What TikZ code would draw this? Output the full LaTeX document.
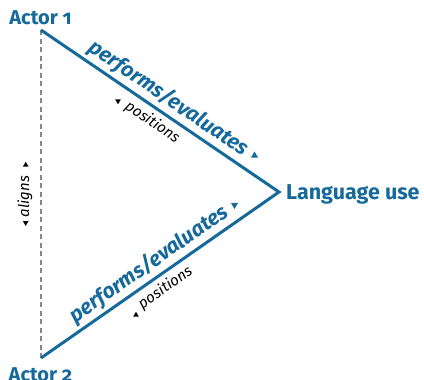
\documentclass[tikz,border=0pt]{standalone}
\usepackage{fontspec}
\setmainfont{Fira Sans}[Numbers=OldStyle]
\usetikzlibrary{shapes.geometric}
\definecolor{lblue}{RGB}{22,105,155}
\definecolor{dgray}{RGB}{135,135,135}
\begin{document}
\begin{tikzpicture}[x=1pt,y=-1pt,
  actor/.style={font=\fontsize{20}{24}\selectfont\bfseries, text=lblue, inner sep=0pt},
  rel/.style={font=\fontsize{21}{24}\selectfont\bfseries\itshape, text=lblue, inner sep=0pt, sloped},
  sub/.style={font=\fontsize{15}{18}\selectfont\itshape, inner sep=0pt},
  edge/.style={draw=lblue, line width=3pt, line join=miter},
  dashline/.style={draw=dgray, line width=1.4pt, dash pattern=on 5pt off 3.5pt},
  tri/.style={regular polygon, regular polygon sides=3, inner sep=0pt, minimum size=8pt, fill=lblue},
  btri/.style={regular polygon, regular polygon sides=3, inner sep=0pt, minimum size=6.5pt, fill=black}
]
\useasboundingbox (0,0) rectangle (424,380);
\coordinate (a1) at (41,30);
\coordinate (lu) at (279,192);
\coordinate (a2) at (41,358);

\node[actor, anchor=base] (t1) at (40.5,24) {Actor 1};
\node[actor, anchor=base] (t2) at (40.5,381) {Actor 2};
\node[actor, font=\fontsize{21.5}{24}\selectfont\bfseries, anchor=base west] (tl) at (286,199.3) {Language use};

\draw[dashline] (a1) -- (a2);
\draw[edge] (a1) -- (lu) -- (a2);

\path (a1) -- node[rel, above=4pt, pos=0.5] (pe1) {performs/evaluates} (lu);
\path (a2) -- node[rel, above=4pt, pos=0.49] (pe2) {performs/evaluates} (lu);
\path (a1) -- node[sub, sloped, below=6pt, pos=0.5] (po1) {positions} (lu);
\path (a2) -- node[sub, sloped, below=6pt, pos=0.49] (po2) {positions} (lu);
\node[sub, rotate=90] (al) at (25,196.5) {aligns};

\node[tri] (tr1) at (254.5,155.5) {};
\node[tri, rotate=180] (tr2) at (234.5,205) {};
\node[btri, rotate=180] (tr3) at (118,101) {};
\node[btri] (tr4) at (136,315) {};
\node[btri] (tr5) at (25.7,165) {};
\node[btri, rotate=180] (tr6) at (25.7,222.7) {};
\end{tikzpicture}
\end{document}
